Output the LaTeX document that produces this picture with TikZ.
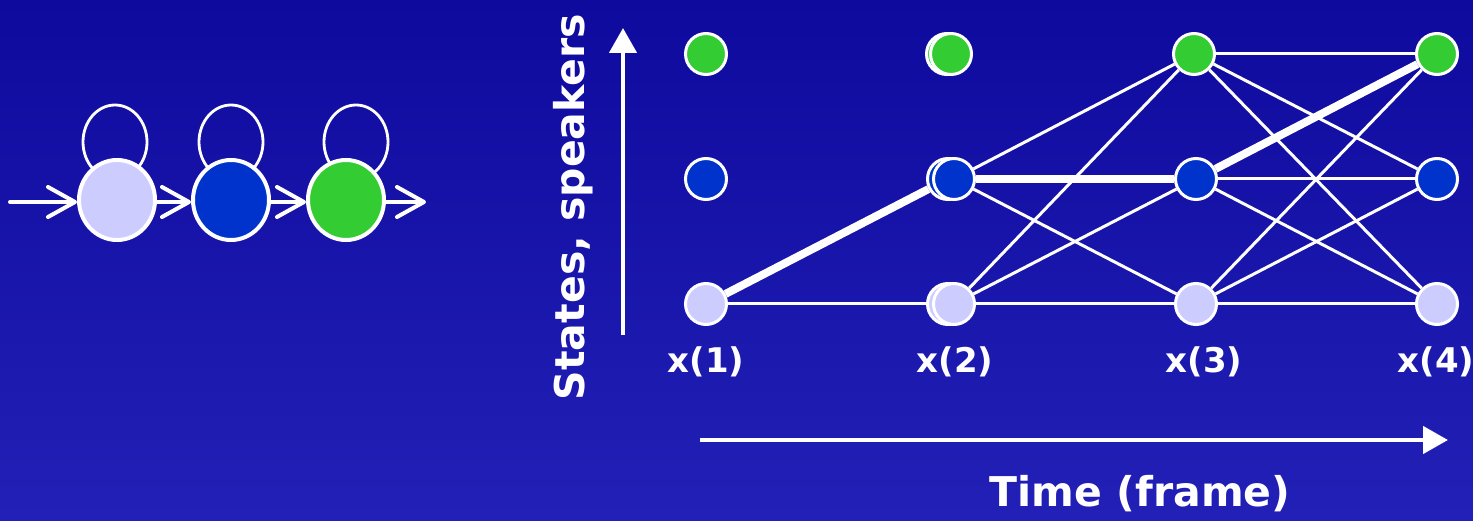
\documentclass[tikz,border=0pt]{standalone}
\usepackage{fontspec}
\setmainfont{DejaVu Sans}
\usetikzlibrary{arrows.meta,shapes.geometric,calc}
\definecolor{bgtop}{RGB}{15,10,158}
\definecolor{bgbot}{RGB}{34,32,182}
\definecolor{lav}{RGB}{204,204,255}
\definecolor{sblue}{RGB}{0,51,204}
\definecolor{sgreen}{RGB}{51,204,51}
\tikzset{
  hmm/.style={ellipse,draw=white,line width=4pt,minimum width=76pt,minimum height=80pt,inner sep=0pt},
  tnode/.style={circle,draw=white,line width=3pt,minimum size=41pt,inner sep=0pt},
  thin edge/.style={draw=white,line width=3pt},
  best edge/.style={draw=white,line width=8pt},
  loopline/.style={draw=white,line width=2.8pt},
  chainarrow/.style={draw=white,line width=4pt,line cap=round,-{Straight Barb[length=27pt,width=30pt,round]}},
  axisarrow/.style={draw=white,line width=4.5pt,-{Triangle[length=25pt,width=27pt]}},
  lbl/.style={text=white,font=\bfseries\fontsize{41}{49}\selectfont,inner sep=0pt},
  xlbl/.style={text=white,font=\bfseries\fontsize{34}{40}\selectfont,inner sep=0pt}
}
\begin{document}
\begin{tikzpicture}[x=1pt,y=-1pt]
\shade[top color=bgtop,bottom color=bgbot] (0,0) rectangle (1473,521);
\useasboundingbox (0,0) rectangle (1473,521);

% ---- left HMM chain ----
\coordinate (c1) at (117,200);
\coordinate (c2) at (231,200);
\coordinate (c3) at (346,200);
\draw[loopline] ($(c1)+(-2,-58)$) ellipse [x radius=32, y radius=37];
\draw[loopline] ($(c2)+(0,-58)$) ellipse [x radius=32, y radius=37];
\draw[loopline] ($(c3)+(10,-58)$) ellipse [x radius=32, y radius=37];
\node[hmm,fill=lav] (h1) at (c1) {};
\node[hmm,fill=sblue] (h2) at (c2) {};
\node[hmm,fill=sgreen] (h3) at (c3) {};
\coordinate (in) at (10,202);
\coordinate (out) at (426,202);
\draw[chainarrow] (in) -- (h1.west|-in);
\draw[chainarrow] (h1.east|-in) -- (h2.west|-in);
\draw[chainarrow] (h2.east|-in) -- (h3.west|-in);
\draw[chainarrow] (h3.east|-in) -- (out);

% ---- trellis ----
\node[tnode,fill=sgreen] (g1) at (706,54) {};
\node[tnode,fill=sblue]  (b1) at (706,179) {};
\node[tnode,fill=lav]    (l1) at (706,304) {};

\node[tnode,fill=sgreen] (g2b) at (947,54) {};
\node[tnode,fill=sgreen] (g2) at (951,54) {};
\node[tnode,fill=sblue]  (b2b) at (948,179) {};
\node[tnode,fill=sblue]  (b2) at (954,179) {};
\node[tnode,fill=lav]    (l2b) at (948,304) {};
\node[tnode,fill=lav]    (l2) at (954,304) {};

\node[tnode,fill=sgreen] (g3) at (1194,54) {};
\node[tnode,fill=sblue]  (b3) at (1196,179) {};
\node[tnode,fill=lav]    (l3) at (1196,304) {};

\node[tnode,fill=sgreen] (g4) at (1437,54) {};
\node[tnode,fill=sblue]  (b4) at (1437,179) {};
\node[tnode,fill=lav]    (l4) at (1437,304) {};

% edges col1 -> col2
\draw[thin edge] (l1) -- (l2b);
\draw[best edge] (l1) -- (b2b);
% edges col2 -> col3
\draw[thin edge] (b2) -- (g3);
\draw[best edge] (b2) -- (b3);
\draw[thin edge] (b2) -- (l3);
\draw[thin edge] (l2) -- (g3);
\draw[thin edge] (l2) -- (b3);
\draw[thin edge] (l2) -- (l3);
% edges col3 -> col4
\draw[thin edge] (g3) -- (g4);
\draw[thin edge] (g3) -- (b4);
\draw[thin edge] (g3) -- (l4);
\draw[best edge] (b3) -- (g4);
\draw[thin edge] (b3) -- (b4);
\draw[thin edge] (b3) -- (l4);
\draw[thin edge] (l3) -- (g4);
\draw[thin edge] (l3) -- (b4);
\draw[thin edge] (l3) -- (l4);

% labels
\node[xlbl] (x1) at (706,362) {x(1)};
\node[xlbl] (x2) at (955,362) {x(2)};
\node[xlbl] (x3) at (1204,362) {x(3)};
\node[xlbl] (x4) at (1436,362) {x(4)};

% axes
\coordinate (ya) at (623,335);
\coordinate (yb) at (623,28);
\draw[axisarrow] (ya) -- (yb);
\coordinate (xa) at (700,440);
\coordinate (xb) at (1448,440);
\draw[axisarrow] (xa) -- (xb);

\node[lbl,rotate=90] (ylab) at (573,207) {States, speakers};
\node[lbl] (xlab) at (1140,494) {Time (frame)};
\end{tikzpicture}
\end{document}
